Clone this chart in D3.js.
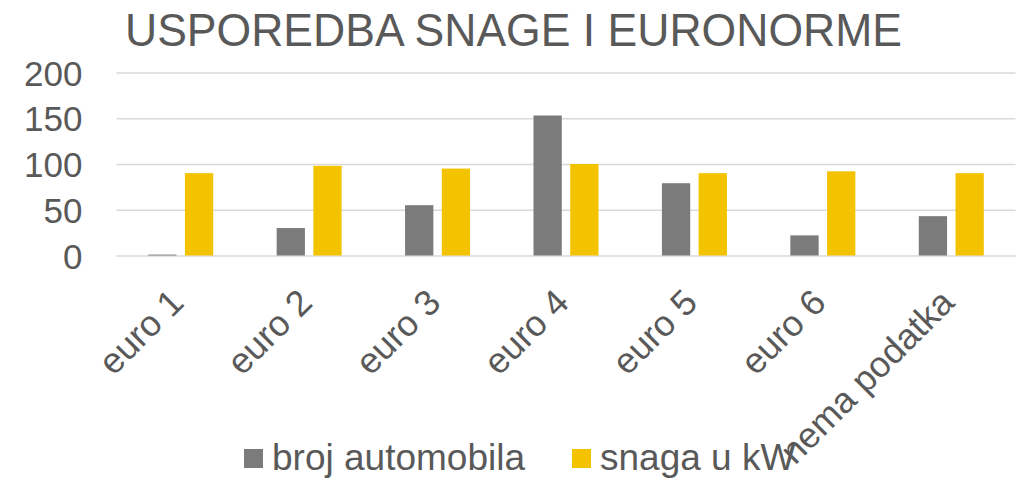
<!DOCTYPE html>
<html>
<head>
<meta charset="utf-8">
<script src="https://cdn.jsdelivr.net/npm/d3@7"></script>
<style>
  html, body { margin: 0; padding: 0; background: #ffffff; }
  svg { display: block; }
  text { font-family: "Liberation Sans", Arial, sans-serif; fill: #595959; }
</style>
</head>
<body>
<svg id="chart" width="1031" height="478"></svg>
<script>
const categories = ["euro 1", "euro 2", "euro 3", "euro 4", "euro 5", "euro 6", "nema podatka"];
const brojAutomobila = [1, 30, 55, 153, 79, 22, 43];
const snagaKW = [90, 98, 95, 100, 90, 92, 90];
const seriesNames = ["broj automobila", "snaga u kW"];
const seriesColors = ["#7b7b7b", "#f4c300"];
const yTicks = [0, 50, 100, 150, 200];
const titleText = "USPOREDBA SNAGE I EURONORME";

const svg = d3.select("#chart");
const plot = { left: 116.5, right: 1015.5, top: 72.5, bottom: 255.5 };

const x = d3.scaleBand().domain(categories).range([plot.left, plot.right]).padding(0);
const bw = x.bandwidth();
const x1 = d3.scaleBand().domain(seriesNames).range([bw / 2 - 32.5, bw / 2 + 32.5]).paddingInner(0.23);
const y = d3.scaleLinear().domain([0, 200]).range([plot.bottom, plot.top]);

// title
svg.append("text")
  .attr("x", 513.5).attr("y", 46)
  .attr("text-anchor", "middle")
  .attr("textLength", 777)
  .attr("lengthAdjust", "spacingAndGlyphs")
  .style("font-size", "46px")
  .text(titleText);

// gridlines + y labels
const yAxis = svg.append("g")
  .attr("transform", `translate(${plot.left},0)`)
  .call(d3.axisLeft(y).tickValues(yTicks).tickSize(-(plot.right - plot.left)).tickPadding(34).tickFormat(d3.format("d")));
yAxis.select(".domain").remove();
yAxis.selectAll(".tick line").attr("stroke", "#d9d9d9").attr("stroke-width", 1.3);
yAxis.selectAll(".tick text").style("font-size", "35px").attr("fill", "#595959").attr("dy", "0.36em");

// bars
const data = categories.map((c, i) => ({ cat: c, vals: [brojAutomobila[i], snagaKW[i]] }));
const groups = svg.append("g").selectAll("g").data(data).join("g")
  .attr("transform", d => `translate(${x(d.cat)},0)`);
groups.selectAll("rect")
  .data(d => d.vals.map((v, j) => ({ key: seriesNames[j], v, j })))
  .join("rect")
  .attr("x", d => x1(d.key))
  .attr("width", x1.bandwidth())
  .attr("y", d => y(d.v))
  .attr("height", d => y(0) - y(d.v))
  .attr("fill", d => seriesColors[d.j]);

// category labels
const xAxis = svg.append("g")
  .attr("transform", `translate(0,${plot.bottom})`)
  .call(d3.axisBottom(x).tickSize(0));
xAxis.select(".domain").remove();
xAxis.selectAll(".tick text")
  .attr("x", 0).attr("y", 0).attr("dy", 0)
  .attr("text-anchor", "end")
  .attr("fill", "#595959")
  .style("font-size", "36px")
  .attr("transform", "translate(5,49) rotate(-45)");

// legend
const legendX = [244, 572];
const legend = svg.append("g").selectAll("g").data(seriesNames).join("g")
  .attr("transform", (d, i) => `translate(${legendX[i]},0)`);
legend.append("rect").attr("x", 0).attr("y", 449).attr("width", 19).attr("height", 19)
  .attr("fill", (d, i) => seriesColors[i]);
legend.append("text").attr("x", 28).attr("y", 470).style("font-size", "37px").text(d => d);
</script>
</body>
</html>
